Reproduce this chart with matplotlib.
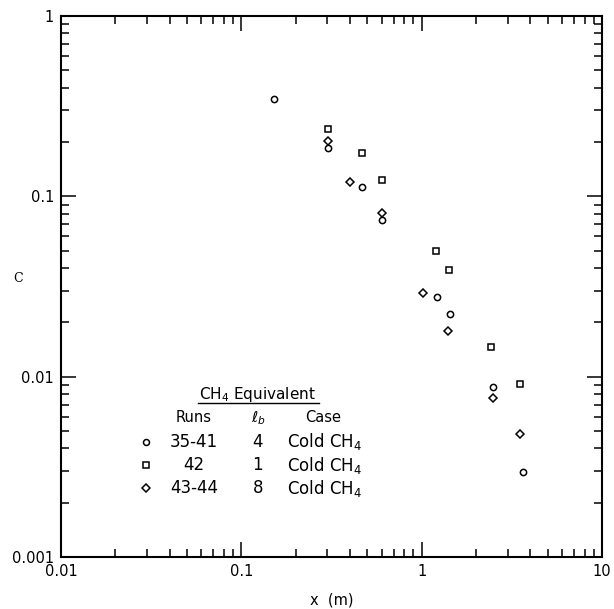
import matplotlib
matplotlib.use("Agg")
import matplotlib.pyplot as plt
from matplotlib.ticker import FixedLocator, FixedFormatter, LogLocator, NullFormatter

# runs 35-41, l_b = 4
x_circ = [0.152, 0.301, 0.466, 0.605, 1.22, 1.44, 2.48, 3.66]
c_circ = [0.347, 0.185, 0.113, 0.0739, 0.0275, 0.0222, 0.00879, 0.00295]
# run 42, l_b = 1
x_sq = [0.301, 0.466, 0.601, 1.20, 1.41, 2.42, 3.52]
c_sq = [0.236, 0.1745, 0.123, 0.0497, 0.039, 0.01465, 0.0091]
# runs 43-44, l_b = 8
x_dia = [0.301, 0.401, 0.605, 1.02, 1.40, 2.50, 3.52]
c_dia = [0.203, 0.1196, 0.0805, 0.029, 0.0179, 0.00758, 0.00479]

x_ticks = [0.01, 0.1, 1, 10]
x_ticklabels = ["0.01", "0.1", "1", "10"]
y_ticks = [0.001, 0.01, 0.1, 1]
y_ticklabels = ["0.001", "0.01", "0.1", "1"]

runs = ["35-41", "42", "43-44"]
lb = ["4", "1", "8"]
case = ["Cold CH$_4$"] * 3
markers = ["o", "s", "D"]

plt.rcParams["font.family"] = "DejaVu Sans"

fig = plt.figure(figsize=(6.14, 6.09), dpi=100)
ax = fig.add_axes([61 / 614, 52 / 609, 541 / 614, 541 / 609])

mk = dict(linestyle="none", mfc="none", mec="black", mew=1.1)
ax.plot(x_circ, c_circ, marker="o", ms=4.5, **mk)
ax.plot(x_sq, c_sq, marker="s", ms=4.3, **mk)
ax.plot(x_dia, c_dia, marker="D", ms=4.0, **mk)

ax.set_xscale("log")
ax.set_yscale("log")
ax.set_xlim(0.01, 10)
ax.set_ylim(0.001, 1)

ax.xaxis.set_major_locator(FixedLocator(x_ticks))
ax.xaxis.set_major_formatter(FixedFormatter(x_ticklabels))
ax.yaxis.set_major_locator(FixedLocator(y_ticks))
ax.yaxis.set_major_formatter(FixedFormatter(y_ticklabels))
for a in (ax.xaxis, ax.yaxis):
    a.set_minor_locator(LogLocator(base=10, subs=range(2, 10)))
    a.set_minor_formatter(NullFormatter())

ax.tick_params(which="both", direction="in", top=True, right=True,
               width=1.1, labelsize=10.5)
ax.tick_params(which="major", length=11, pad=5)
ax.tick_params(which="minor", length=6)
for s in ax.spines.values():
    s.set_linewidth(1.5)

ax.set_xlabel("x  (m)", fontsize=10.5, labelpad=10)
fig.text(18 / 614, 1 - 278 / 609, "C", family="DejaVu Serif", fontsize=9,
         ha="center", va="center")

# legend drawn as a small table in axes fraction
tr = ax.transAxes
ax.text(0.364, 0.301, "CH$_4$ Equivalent", transform=tr, ha="center",
        va="center", fontsize=11)
ax.plot([0.253, 0.477], [0.285, 0.285], transform=tr, color="black", lw=1.0,
        clip_on=False)
ax.text(0.246, 0.257, "Runs", transform=tr, ha="center", va="center", fontsize=10.5)
ax.text(0.364, 0.257, r"$\ell_b$", transform=tr, ha="center", va="center", fontsize=11)
ax.text(0.484, 0.257, "Case", transform=tr, ha="center", va="center", fontsize=10.5)
row_y = [0.213, 0.170, 0.1275]
for m, r, l, c, yy in zip(markers, runs, lb, case, row_y):
    ax.plot([0.157], [yy], transform=tr, marker=m, ms=4.3 if m != "D" else 4.0, **mk)
    ax.text(0.246, yy, r, transform=tr, ha="center", va="center", fontsize=12)
    ax.text(0.364, yy, l, transform=tr, ha="center", va="center", fontsize=12)
    ax.text(0.418, yy, c, transform=tr, ha="left", va="center", fontsize=12)

fig.savefig("out.png", dpi=100)
